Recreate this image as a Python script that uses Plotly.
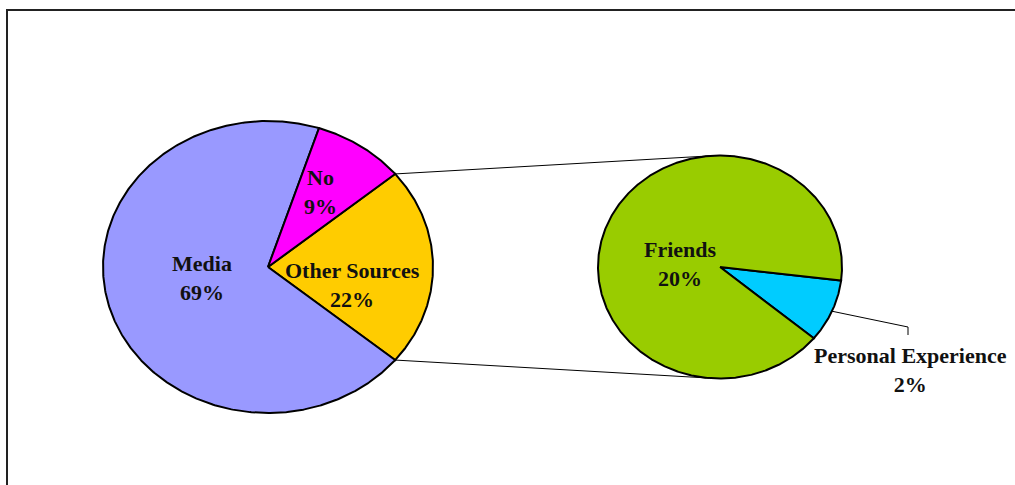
import numpy as np
import plotly.graph_objects as go

# ---------------- data ----------------
main_labels = ["Other Sources", "Media", "No"]
main_values = [22, 69, 9]
main_colors = ["#FFCC00", "#9999FF", "#FF00FF"]

sub_labels = ["Personal Experience", "Friends"]
sub_values = [2, 20]
sub_colors = ["#00CCFF", "#99CC00"]

# ---------------- layout constants (pixel space) ----------------
W, H = 1015, 485
L_C, L_RX, L_RY = (268, 267), 165, 146
R_C, R_RX, R_RY = (720, 267), 122, 111.5
R_START = 97  # start angle of second pie (deg, clockwise from 12 o'clock)

label_pos = {
    "Media": (202, 278),
    "No": (320, 192),
    "Other Sources": (352, 285),
    "Friends": (680, 264),
    "Personal Experience": (910, 370),
}

FONT = dict(family="Liberation Serif, Times New Roman, serif", size=22, color="#111111")


def pt(c, rx, ry, deg):
    t = np.deg2rad(deg)
    return c[0] + rx * np.sin(t), c[1] - ry * np.cos(t)


def wedge(c, rx, ry, a0, a1):
    n = max(int(abs(a1 - a0) * 2), 4)
    ang = np.linspace(a0, a1, n)
    xs, ys = pt(c, rx, ry, ang)
    return [c[0], *xs, c[0]], [c[1], *ys, c[1]]


fig = go.Figure()

# main pie: "Other Sources" centered at 3 o'clock
tot = sum(main_values)
start = 90 - main_values[0] / tot * 360 / 2
angles_main = []
a = start
for lab, v, col in zip(main_labels, main_values, main_colors):
    span = v / tot * 360
    xs, ys = wedge(L_C, L_RX, L_RY, a, a + span)
    fig.add_trace(go.Scatter(x=xs, y=ys, mode="lines", fill="toself", fillcolor=col,
                             line=dict(color="black", width=2), hoverinfo="skip",
                             showlegend=False))
    angles_main.append((a, a + span))
    a += span

# sub pie
stot = sum(sub_values)
a = R_START
angles_sub = []
for lab, v, col in zip(sub_labels, sub_values, sub_colors):
    span = v / stot * 360
    xs, ys = wedge(R_C, R_RX, R_RY, a, a + span)
    fig.add_trace(go.Scatter(x=xs, y=ys, mode="lines", fill="toself", fillcolor=col,
                             line=dict(color="black", width=2), hoverinfo="skip",
                             showlegend=False))
    angles_sub.append((a, a + span))
    a += span

# connector lines between the pies
o0, o1 = angles_main[0]
p_top = pt(L_C, L_RX, L_RY, o0)
p_bot = pt(L_C, L_RX, L_RY, o1)
q_top = pt(R_C, R_RX, R_RY, -5)
q_bot = pt(R_C, R_RX, R_RY, 185)
for p, q in [(p_top, q_top), (p_bot, q_bot)]:
    fig.add_trace(go.Scatter(x=[p[0], q[0]], y=[p[1], q[1]], mode="lines",
                             line=dict(color="black", width=1), hoverinfo="skip",
                             showlegend=False))

# leader line for Personal Experience
pe_mid = sum(angles_sub[0]) / 2
s = pt(R_C, R_RX, R_RY, pe_mid)
fig.add_trace(go.Scatter(x=[s[0], 908, 908], y=[s[1], 327, 335], mode="lines",
                         line=dict(color="black", width=1), hoverinfo="skip",
                         showlegend=False))

# labels
all_labels = main_labels + sub_labels
all_values = main_values + sub_values
for lab, v in zip(all_labels, all_values):
    x, y = label_pos[lab]
    fig.add_annotation(x=x, y=y, xref="x", yref="y", showarrow=False,
                       text=f"<b>{lab}</b><br><b>{v}%</b>", font=FONT, align="center")

# chart border (extends past the window on right and bottom)
fig.add_shape(type="rect", xref="paper", yref="paper",
              x0=7 / W, x1=1.1, y0=-0.1, y1=1 - 10 / H,
              line=dict(color="#222222", width=2), fillcolor="rgba(0,0,0,0)")

fig.update_xaxes(range=[0, W], visible=False, fixedrange=True)
fig.update_yaxes(range=[H, 0], visible=False, fixedrange=True)
fig.update_layout(width=W, height=H, margin=dict(l=0, r=0, t=0, b=0),
                  paper_bgcolor="white", plot_bgcolor="white")

fig.write_html("out.html", config={"displayModeBar": False},
               post_script="document.body.style.margin='0';document.body.style.padding='0';")
